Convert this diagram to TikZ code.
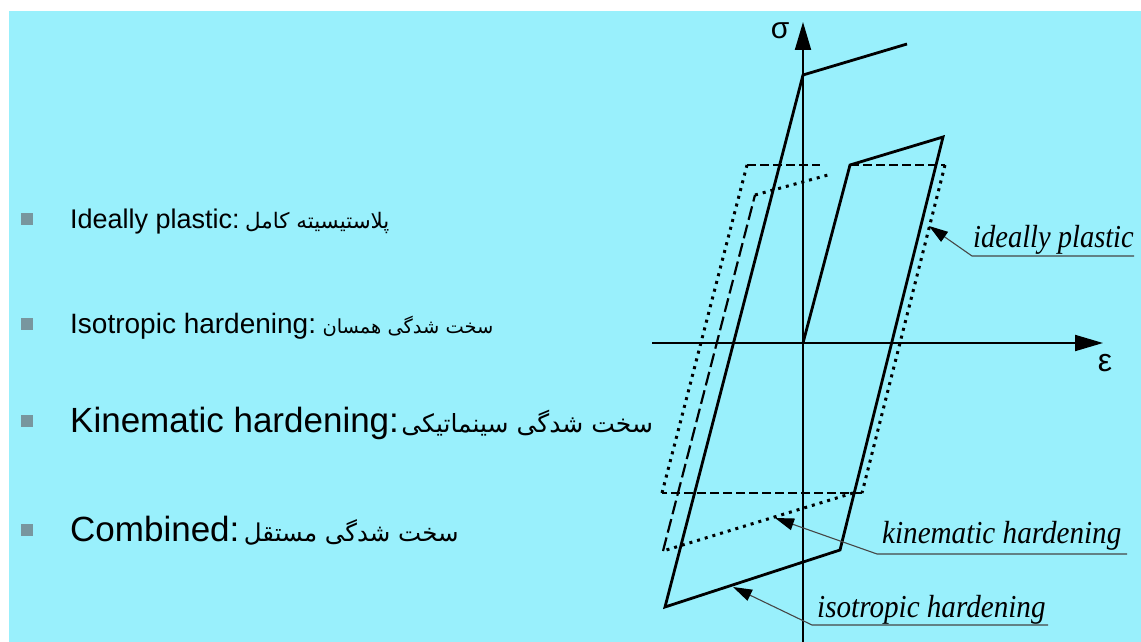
\documentclass[tikz,border=0pt]{standalone}
\usepackage{fontspec}
\setmainfont{Liberation Sans}
\newfontfamily\arabicfont[Script=Arabic]{DejaVu Sans}
\newfontfamily\serif{Liberation Serif}
\usetikzlibrary{arrows.meta}
\TeXXeTstate=1
\definecolor{bg}{RGB}{153,240,252}
\definecolor{bulletgray}{RGB}{120,150,158}
\definecolor{leadgray}{RGB}{70,70,70}
\tikzset{
  eng/.style={anchor=base west, inner sep=0pt},
  per/.style={anchor=base west, inner sep=0pt},
  bul/.style={fill=bulletgray, minimum size=12pt, inner sep=0pt},
  curve/.style={line width=2.8pt, line join=miter},
  dashln/.style={line width=2.8pt, dash pattern=on 9pt off 4pt},
  kdash/.style={line width=2.2pt, dash pattern=on 14pt off 5pt},
  dotln/.style={line width=3pt, dash pattern=on 3pt off 5pt},
  axis/.style={line width=2pt, -{Triangle[length=28pt,width=16pt]}},
  lbl/.style={anchor=base west, inner sep=0pt, font=\serif\itshape\fontsize{32}{36}\selectfont},
  leader/.style={line width=1.1pt, draw=leadgray},
  ltip/.style={{Triangle[length=19pt,width=12pt,color=black]}-, leader}
}
\newcommand{\engf}[1]{\fontsize{#1}{#1}\selectfont}
\newcommand{\perf}[1]{\arabicfont\fontsize{#1}{#1}\selectfont}
\begin{document}
\begin{tikzpicture}[x=1pt,y=-1pt]
\fill[white] (0,0) rectangle (1141,642);
\fill[bg] (9,11) rectangle (1141,642);
\useasboundingbox (0,0) rectangle (1141,642);

% bullet list
\node[bul] (b1) at (27,219) {};
\node[bul] (b2) at (27,324) {};
\node[bul] (b3) at (27,421) {};
\node[bul] (b4) at (27,530) {};
\node[eng, font=\engf{27}] (e1) at (70,228) {Ideally plastic:};
\node[per, font=\perf{21.4}] (p1) at ([xshift=5pt]e1.base east) {\beginR پلاستیسیته کامل\endR};
\node[eng, font=\engf{28}] (e2) at (70,333) {Isotropic hardening:};
\node[per, font=\perf{19.4}] (p2) at ([xshift=6pt]e2.base east) {\beginR سخت شدگی همسان\endR};
\node[eng, font=\engf{35}] (e3) at (70,432) {Kinematic hardening:};
\node[per, font=\perf{25}] (p3) at ([xshift=2pt]e3.base east) {\beginR سخت شدگی سینماتیکی\endR};
\node[eng, font=\engf{35}] (e4) at (70,541) {Combined:};
\node[per, font=\perf{24.5}] (p4) at ([xshift=4pt]e4.base east) {\beginR سخت شدگی مستقل\endR};

% axes
\coordinate (sb) at (803,642);
\coordinate (st) at (803,22);
\coordinate (el) at (652,343);
\coordinate (er) at (1103,343);
\draw[axis] (sb) -- (st);
\draw[axis] (el) -- (er);
\node[font=\engf{30}, inner sep=0pt] (sig) at (780,31) {σ};
\node[font=\engf{32}, inner sep=0pt] (eps) at (1105,363) {ε};

% combined / isotropic solid path
\coordinate (O) at (803,343);
\coordinate (A) at (850,165);
\coordinate (B) at (943,137);
\coordinate (C) at (840,550);
\coordinate (D) at (665,607);
\coordinate (E) at (803,75);
\coordinate (F) at (907,44);
\draw[curve] (O) -- (A) -- (B) -- (C) -- (D) -- (E) -- (F);

% ideally plastic
\coordinate (IB) at (945,165);
\coordinate (IC) at (862,493);
\coordinate (ID) at (662,493);
\coordinate (IE) at (747,165);
\coordinate (IF) at (820,165);
\draw[dashln] (A) -- (IB);
\draw[dotln] (IB) -- (IC);
\draw[dashln] (IC) -- (ID);
\draw[dotln] (ID) -- (IE);
\draw[dashln] (IE) -- (IF);

% kinematic
\coordinate (KA) at (853,493);
\coordinate (KB) at (663,551);
\coordinate (KC) at (755,195);
\coordinate (KD) at (828,175);
\draw[dotln] (KA) -- (KB);
\draw[kdash] (KB) -- (KC);
\draw[dotln] (KC) -- (KD);

% labels
\node[lbl] (lip) at (973,247) {\scalebox{0.89}[1]{ideally plastic}};
\coordinate (ipTip) at (929,226);
\coordinate (ipKnee) at (972,256);
\coordinate (ipEnd) at (1134,256);
\draw[ltip] (ipTip) -- (ipKnee) -- (ipEnd);

\node[lbl] (lkh) at (882,543) {\scalebox{0.91}[1]{kinematic hardening}};
\coordinate (khTip) at (775,518);
\coordinate (khKnee) at (877,554);
\coordinate (khEnd) at (1127,554);
\draw[ltip] (khTip) -- (khKnee) -- (khEnd);

\node[lbl] (lih) at (817,617) {\scalebox{0.91}[1]{isotropic hardening}};
\coordinate (ihTip) at (733,587);
\coordinate (ihKnee) at (812,625);
\coordinate (ihEnd) at (1048,625);
\draw[ltip] (ihTip) -- (ihKnee) -- (ihEnd);
\end{tikzpicture}
\end{document}
